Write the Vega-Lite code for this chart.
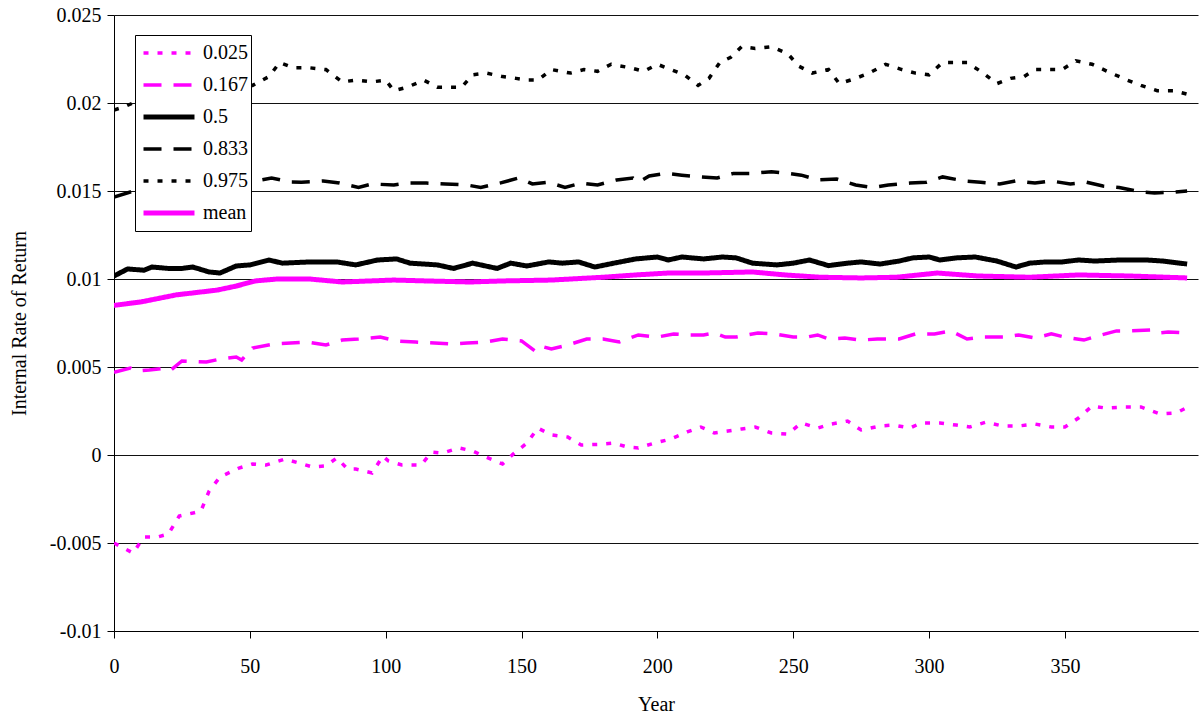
{
  "$schema": "https://vega.github.io/schema/vega-lite/v6.json",
  "width": 1084,
  "height": 616,
  "autosize": {"type": "none"},
  "padding": {"left": 114, "top": 15, "right": 2, "bottom": 84},
  "background": "white",
  "config": {
    "view": {"stroke": null},
    "font": "Liberation Serif",
    "axis": {
      "domainColor": "black", "tickColor": "black", "labelColor": "black", "titleColor": "black",
      "labelFont": "Liberation Serif", "titleFont": "Liberation Serif",
      "labelFontSize": 20, "titleFontSize": 20, "titleFontWeight": "normal",
      "tickSize": 7, "domainWidth": 1, "tickWidth": 1
    }
  },
  "data": {"values": [
    {"s":"0.975","x":0,"y":0.0196},{"s":"0.975","x":4,"y":0.0198},{"s":"0.975","x":10,"y":0.0202},{"s":"0.975","x":20,"y":0.0206},{"s":"0.975","x":30,"y":0.0209},{"s":"0.975","x":40,"y":0.0210},{"s":"0.975","x":51,"y":0.0210},{"s":"0.975","x":57,"y":0.0215},{"s":"0.975","x":61,"y":0.0223},{"s":"0.975","x":66,"y":0.0220},{"s":"0.975","x":72,"y":0.0220},{"s":"0.975","x":78,"y":0.0219},{"s":"0.975","x":84,"y":0.0212},{"s":"0.975","x":89,"y":0.0213},{"s":"0.975","x":95,"y":0.0212},{"s":"0.975","x":100,"y":0.0213},{"s":"0.975","x":103,"y":0.0207},{"s":"0.975","x":108,"y":0.0209},{"s":"0.975","x":114,"y":0.0213},{"s":"0.975","x":119,"y":0.0209},{"s":"0.975","x":124,"y":0.0209},{"s":"0.975","x":128,"y":0.0209},{"s":"0.975","x":132,"y":0.0216},{"s":"0.975","x":137,"y":0.0217},{"s":"0.975","x":143,"y":0.0215},{"s":"0.975","x":148,"y":0.0214},{"s":"0.975","x":152,"y":0.0213},{"s":"0.975","x":156,"y":0.0213},{"s":"0.975","x":161,"y":0.0219},{"s":"0.975","x":168,"y":0.0217},{"s":"0.975","x":173,"y":0.0219},{"s":"0.975","x":178,"y":0.0218},{"s":"0.975","x":183,"y":0.0222},{"s":"0.975","x":190,"y":0.0220},{"s":"0.975","x":195,"y":0.0218},{"s":"0.975","x":200,"y":0.0222},{"s":"0.975","x":205,"y":0.0219},{"s":"0.975","x":210,"y":0.0216},{"s":"0.975","x":215,"y":0.0210},{"s":"0.975","x":219,"y":0.0214},{"s":"0.975","x":223,"y":0.0223},{"s":"0.975","x":227,"y":0.0226},{"s":"0.975","x":231,"y":0.0232},{"s":"0.975","x":236,"y":0.0231},{"s":"0.975","x":242,"y":0.0232},{"s":"0.975","x":248,"y":0.0228},{"s":"0.975","x":252,"y":0.0221},{"s":"0.975","x":257,"y":0.0217},{"s":"0.975","x":263,"y":0.0219},{"s":"0.975","x":267,"y":0.0211},{"s":"0.975","x":273,"y":0.0214},{"s":"0.975","x":278,"y":0.0217},{"s":"0.975","x":284,"y":0.0222},{"s":"0.975","x":290,"y":0.0219},{"s":"0.975","x":295,"y":0.0217},{"s":"0.975","x":300,"y":0.0216},{"s":"0.975","x":305,"y":0.0223},{"s":"0.975","x":310,"y":0.0223},{"s":"0.975","x":314,"y":0.0223},{"s":"0.975","x":319,"y":0.0218},{"s":"0.975","x":325,"y":0.0211},{"s":"0.975","x":330,"y":0.0214},{"s":"0.975","x":335,"y":0.0215},{"s":"0.975","x":339,"y":0.0219},{"s":"0.975","x":343,"y":0.0219},{"s":"0.975","x":349,"y":0.0219},{"s":"0.975","x":354,"y":0.0224},{"s":"0.975","x":360,"y":0.0222},{"s":"0.975","x":367,"y":0.0217},{"s":"0.975","x":373,"y":0.0213},{"s":"0.975","x":378,"y":0.0210},{"s":"0.975","x":384,"y":0.0207},{"s":"0.975","x":390,"y":0.0207},{"s":"0.975","x":395,"y":0.0205},

    {"s":"0.833","x":0,"y":0.01466},{"s":"0.833","x":6,"y":0.01494},{"s":"0.833","x":15,"y":0.0152},{"s":"0.833","x":25,"y":0.0154},{"s":"0.833","x":35,"y":0.0155},{"s":"0.833","x":45,"y":0.0156},{"s":"0.833","x":52,"y":0.01557},{"s":"0.833","x":58,"y":0.01574},{"s":"0.833","x":65,"y":0.01551},{"s":"0.833","x":69,"y":0.0155},{"s":"0.833","x":77,"y":0.01557},{"s":"0.833","x":83,"y":0.01545},{"s":"0.833","x":90,"y":0.0152},{"s":"0.833","x":95,"y":0.0154},{"s":"0.833","x":103,"y":0.01534},{"s":"0.833","x":108,"y":0.01545},{"s":"0.833","x":115,"y":0.01545},{"s":"0.833","x":122,"y":0.0154},{"s":"0.833","x":130,"y":0.01534},{"s":"0.833","x":135,"y":0.0152},{"s":"0.833","x":142,"y":0.01545},{"s":"0.833","x":149,"y":0.01574},{"s":"0.833","x":154,"y":0.0154},{"s":"0.833","x":160,"y":0.0155},{"s":"0.833","x":166,"y":0.0152},{"s":"0.833","x":172,"y":0.01545},{"s":"0.833","x":178,"y":0.01534},{"s":"0.833","x":185,"y":0.01563},{"s":"0.833","x":191,"y":0.01574},{"s":"0.833","x":193,"y":0.0155},{"s":"0.833","x":197,"y":0.01585},{"s":"0.833","x":203,"y":0.0160},{"s":"0.833","x":209,"y":0.0159},{"s":"0.833","x":216,"y":0.0158},{"s":"0.833","x":222,"y":0.01574},{"s":"0.833","x":228,"y":0.0160},{"s":"0.833","x":235,"y":0.0160},{"s":"0.833","x":242,"y":0.0161},{"s":"0.833","x":248,"y":0.0160},{"s":"0.833","x":253,"y":0.0159},{"s":"0.833","x":259,"y":0.01563},{"s":"0.833","x":266,"y":0.01568},{"s":"0.833","x":273,"y":0.01534},{"s":"0.833","x":279,"y":0.0152},{"s":"0.833","x":285,"y":0.01534},{"s":"0.833","x":293,"y":0.01545},{"s":"0.833","x":299,"y":0.0155},{"s":"0.833","x":305,"y":0.0158},{"s":"0.833","x":313,"y":0.01557},{"s":"0.833","x":319,"y":0.0155},{"s":"0.833","x":326,"y":0.0154},{"s":"0.833","x":332,"y":0.01557},{"s":"0.833","x":339,"y":0.01545},{"s":"0.833","x":345,"y":0.01557},{"s":"0.833","x":352,"y":0.0154},{"s":"0.833","x":358,"y":0.0155},{"s":"0.833","x":364,"y":0.01528},{"s":"0.833","x":370,"y":0.0152},{"s":"0.833","x":378,"y":0.01494},{"s":"0.833","x":383,"y":0.01489},{"s":"0.833","x":390,"y":0.01494},{"s":"0.833","x":395,"y":0.0150},

    {"s":"0.5","x":0,"y":0.01017},{"s":"0.5","x":5,"y":0.01057},{"s":"0.5","x":11,"y":0.0105},{"s":"0.5","x":14,"y":0.01068},{"s":"0.5","x":20,"y":0.0106},{"s":"0.5","x":25,"y":0.0106},{"s":"0.5","x":29,"y":0.01068},{"s":"0.5","x":35,"y":0.0104},{"s":"0.5","x":39,"y":0.01034},{"s":"0.5","x":45,"y":0.01074},{"s":"0.5","x":50,"y":0.0108},{"s":"0.5","x":57,"y":0.01108},{"s":"0.5","x":62,"y":0.0109},{"s":"0.5","x":72,"y":0.01097},{"s":"0.5","x":82,"y":0.01097},{"s":"0.5","x":89,"y":0.0108},{"s":"0.5","x":97,"y":0.01108},{"s":"0.5","x":104,"y":0.01114},{"s":"0.5","x":109,"y":0.0109},{"s":"0.5","x":119,"y":0.0108},{"s":"0.5","x":125,"y":0.0106},{"s":"0.5","x":132,"y":0.0109},{"s":"0.5","x":141,"y":0.0106},{"s":"0.5","x":146,"y":0.0109},{"s":"0.5","x":152,"y":0.01074},{"s":"0.5","x":160,"y":0.01097},{"s":"0.5","x":165,"y":0.0109},{"s":"0.5","x":171,"y":0.01097},{"s":"0.5","x":177,"y":0.01068},{"s":"0.5","x":184,"y":0.0109},{"s":"0.5","x":192,"y":0.01114},{"s":"0.5","x":200,"y":0.01125},{"s":"0.5","x":204,"y":0.01108},{"s":"0.5","x":209,"y":0.01125},{"s":"0.5","x":217,"y":0.01114},{"s":"0.5","x":224,"y":0.01125},{"s":"0.5","x":229,"y":0.0112},{"s":"0.5","x":235,"y":0.0109},{"s":"0.5","x":244,"y":0.0108},{"s":"0.5","x":250,"y":0.0109},{"s":"0.5","x":256,"y":0.01108},{"s":"0.5","x":263,"y":0.01076},{"s":"0.5","x":270,"y":0.0109},{"s":"0.5","x":275,"y":0.01097},{"s":"0.5","x":282,"y":0.01085},{"s":"0.5","x":289,"y":0.01102},{"s":"0.5","x":294,"y":0.0112},{"s":"0.5","x":300,"y":0.01125},{"s":"0.5","x":304,"y":0.01108},{"s":"0.5","x":310,"y":0.0112},{"s":"0.5","x":317,"y":0.01125},{"s":"0.5","x":325,"y":0.01102},{"s":"0.5","x":332,"y":0.01068},{"s":"0.5","x":337,"y":0.0109},{"s":"0.5","x":343,"y":0.01097},{"s":"0.5","x":349,"y":0.01097},{"s":"0.5","x":355,"y":0.01108},{"s":"0.5","x":361,"y":0.01102},{"s":"0.5","x":370,"y":0.01108},{"s":"0.5","x":380,"y":0.01108},{"s":"0.5","x":386,"y":0.01102},{"s":"0.5","x":395,"y":0.01085},

    {"s":"mean","x":0,"y":0.0085},{"s":"mean","x":10,"y":0.0087},{"s":"mean","x":23,"y":0.0091},{"s":"mean","x":38,"y":0.00937},{"s":"mean","x":45,"y":0.0096},{"s":"mean","x":52,"y":0.00989},{"s":"mean","x":60,"y":0.0100},{"s":"mean","x":72,"y":0.0100},{"s":"mean","x":84,"y":0.00983},{"s":"mean","x":103,"y":0.00994},{"s":"mean","x":115,"y":0.00989},{"s":"mean","x":131,"y":0.00983},{"s":"mean","x":143,"y":0.00989},{"s":"mean","x":161,"y":0.00994},{"s":"mean","x":180,"y":0.0101},{"s":"mean","x":192,"y":0.01023},{"s":"mean","x":204,"y":0.01034},{"s":"mean","x":217,"y":0.01034},{"s":"mean","x":235,"y":0.0104},{"s":"mean","x":247,"y":0.01023},{"s":"mean","x":260,"y":0.0101},{"s":"mean","x":275,"y":0.01006},{"s":"mean","x":288,"y":0.0101},{"s":"mean","x":303,"y":0.01034},{"s":"mean","x":318,"y":0.01017},{"s":"mean","x":337,"y":0.0101},{"s":"mean","x":355,"y":0.01023},{"s":"mean","x":374,"y":0.01017},{"s":"mean","x":395,"y":0.01006},

    {"s":"0.167","x":0,"y":0.0047},{"s":"0.167","x":6,"y":0.00494},{"s":"0.167","x":8,"y":0.00477},{"s":"0.167","x":13,"y":0.00483},{"s":"0.167","x":20,"y":0.00494},{"s":"0.167","x":21,"y":0.00483},{"s":"0.167","x":25,"y":0.00534},{"s":"0.167","x":34,"y":0.00528},{"s":"0.167","x":39,"y":0.00545},{"s":"0.167","x":45,"y":0.00557},{"s":"0.167","x":47,"y":0.0054},{"s":"0.167","x":51,"y":0.00608},{"s":"0.167","x":59,"y":0.00631},{"s":"0.167","x":65,"y":0.00636},{"s":"0.167","x":71,"y":0.00642},{"s":"0.167","x":78,"y":0.00625},{"s":"0.167","x":84,"y":0.00653},{"s":"0.167","x":90,"y":0.00659},{"s":"0.167","x":98,"y":0.0067},{"s":"0.167","x":104,"y":0.00648},{"s":"0.167","x":111,"y":0.00642},{"s":"0.167","x":118,"y":0.00636},{"s":"0.167","x":124,"y":0.00631},{"s":"0.167","x":130,"y":0.00636},{"s":"0.167","x":137,"y":0.00642},{"s":"0.167","x":143,"y":0.00659},{"s":"0.167","x":150,"y":0.00648},{"s":"0.167","x":155,"y":0.00591},{"s":"0.167","x":157,"y":0.00619},{"s":"0.167","x":161,"y":0.00602},{"s":"0.167","x":167,"y":0.00625},{"s":"0.167","x":174,"y":0.00659},{"s":"0.167","x":180,"y":0.00659},{"s":"0.167","x":186,"y":0.00642},{"s":"0.167","x":193,"y":0.00682},{"s":"0.167","x":200,"y":0.0067},{"s":"0.167","x":206,"y":0.00688},{"s":"0.167","x":212,"y":0.00682},{"s":"0.167","x":217,"y":0.00682},{"s":"0.167","x":221,"y":0.00693},{"s":"0.167","x":225,"y":0.0067},{"s":"0.167","x":229,"y":0.0067},{"s":"0.167","x":237,"y":0.00693},{"s":"0.167","x":243,"y":0.00688},{"s":"0.167","x":250,"y":0.0067},{"s":"0.167","x":255,"y":0.0067},{"s":"0.167","x":259,"y":0.00682},{"s":"0.167","x":263,"y":0.00659},{"s":"0.167","x":269,"y":0.00665},{"s":"0.167","x":275,"y":0.00653},{"s":"0.167","x":281,"y":0.00659},{"s":"0.167","x":289,"y":0.00659},{"s":"0.167","x":295,"y":0.00688},{"s":"0.167","x":302,"y":0.00688},{"s":"0.167","x":308,"y":0.00705},{"s":"0.167","x":314,"y":0.00659},{"s":"0.167","x":320,"y":0.0067},{"s":"0.167","x":328,"y":0.0067},{"s":"0.167","x":333,"y":0.00682},{"s":"0.167","x":339,"y":0.00665},{"s":"0.167","x":345,"y":0.00688},{"s":"0.167","x":350,"y":0.0067},{"s":"0.167","x":357,"y":0.00653},{"s":"0.167","x":362,"y":0.00676},{"s":"0.167","x":369,"y":0.00705},{"s":"0.167","x":374,"y":0.00705},{"s":"0.167","x":382,"y":0.0071},{"s":"0.167","x":384,"y":0.00693},{"s":"0.167","x":388,"y":0.00699},{"s":"0.167","x":395,"y":0.00693},

    {"s":"0.025","x":0,"y":-0.0050},{"s":"0.025","x":7,"y":-0.00557},{"s":"0.025","x":11,"y":-0.00466},{"s":"0.025","x":16,"y":-0.00466},{"s":"0.025","x":20,"y":-0.00449},{"s":"0.025","x":24,"y":-0.00347},{"s":"0.025","x":29,"y":-0.0033},{"s":"0.025","x":32,"y":-0.00318},{"s":"0.025","x":35,"y":-0.00205},{"s":"0.025","x":39,"y":-0.00125},{"s":"0.025","x":46,"y":-0.00074},{"s":"0.025","x":51,"y":-0.00051},{"s":"0.025","x":56,"y":-0.00057},{"s":"0.025","x":63,"y":-0.00023},{"s":"0.025","x":68,"y":-0.00045},{"s":"0.025","x":73,"y":-0.00068},{"s":"0.025","x":78,"y":-0.00062},{"s":"0.025","x":82,"y":-0.00017},{"s":"0.025","x":86,"y":-0.0008},{"s":"0.025","x":89,"y":-0.0008},{"s":"0.025","x":95,"y":-0.00102},{"s":"0.025","x":99,"y":-0.00006},{"s":"0.025","x":101,"y":-0.00034},{"s":"0.025","x":106,"y":-0.00057},{"s":"0.025","x":113,"y":-0.00057},{"s":"0.025","x":117,"y":0.00017},{"s":"0.025","x":121,"y":0.00011},{"s":"0.025","x":127,"y":0.0004},{"s":"0.025","x":132,"y":0.00023},{"s":"0.025","x":136,"y":-0.00006},{"s":"0.025","x":143,"y":-0.00051},{"s":"0.025","x":147,"y":0.00006},{"s":"0.025","x":152,"y":0.00068},{"s":"0.025","x":156,"y":0.00153},{"s":"0.025","x":161,"y":0.00114},{"s":"0.025","x":167,"y":0.00102},{"s":"0.025","x":172,"y":0.00057},{"s":"0.025","x":178,"y":0.0006},{"s":"0.025","x":184,"y":0.00068},{"s":"0.025","x":189,"y":0.00045},{"s":"0.025","x":193,"y":0.0004},{"s":"0.025","x":199,"y":0.00068},{"s":"0.025","x":205,"y":0.00091},{"s":"0.025","x":211,"y":0.00131},{"s":"0.025","x":216,"y":0.00159},{"s":"0.025","x":221,"y":0.00125},{"s":"0.025","x":226,"y":0.00136},{"s":"0.025","x":231,"y":0.00148},{"s":"0.025","x":236,"y":0.00159},{"s":"0.025","x":242,"y":0.00125},{"s":"0.025","x":248,"y":0.00119},{"s":"0.025","x":253,"y":0.00182},{"s":"0.025","x":259,"y":0.00153},{"s":"0.025","x":264,"y":0.00176},{"s":"0.025","x":270,"y":0.00193},{"s":"0.025","x":275,"y":0.00142},{"s":"0.025","x":282,"y":0.00165},{"s":"0.025","x":287,"y":0.0017},{"s":"0.025","x":293,"y":0.00153},{"s":"0.025","x":297,"y":0.00182},{"s":"0.025","x":304,"y":0.00182},{"s":"0.025","x":310,"y":0.0017},{"s":"0.025","x":315,"y":0.00159},{"s":"0.025","x":321,"y":0.00187},{"s":"0.025","x":327,"y":0.00165},{"s":"0.025","x":333,"y":0.00165},{"s":"0.025","x":339,"y":0.00176},{"s":"0.025","x":345,"y":0.00159},{"s":"0.025","x":350,"y":0.00159},{"s":"0.025","x":355,"y":0.0021},{"s":"0.025","x":360,"y":0.00278},{"s":"0.025","x":365,"y":0.00267},{"s":"0.025","x":372,"y":0.00273},{"s":"0.025","x":378,"y":0.00273},{"s":"0.025","x":385,"y":0.00233},{"s":"0.025","x":391,"y":0.00239},{"s":"0.025","x":395,"y":0.0027}
  ]},
  "mark": {"type": "line", "clip": true},
  "encoding": {
    "x": {
      "field": "x", "type": "quantitative",
      "scale": {"domain": [0, 399], "nice": false, "zero": false},
      "axis": {"title": "Year", "values": [0, 50, 100, 150, 200, 250, 300, 350], "grid": false, "labelPadding": 18, "titlePadding": 18, "labelFlush": false}
    },
    "y": {
      "field": "y", "type": "quantitative",
      "scale": {"domain": [-0.01, 0.025], "nice": false, "zero": false},
      "axis": {
        "title": "Internal Rate of Return",
        "values": [-0.01, -0.005, 0, 0.005, 0.01, 0.015, 0.02, 0.025],
        "labelExpr": "'' + datum.value",
        "grid": true, "gridColor": "#111111", "gridWidth": 1, "gridOpacity": 1,
        "labelPadding": 6, "titlePadding": 20
      }
    },
    "color": {
      "field": "s", "type": "nominal",
      "scale": {"domain": ["0.025", "0.167", "0.5", "0.833", "0.975", "mean"], "range": ["#FF00FF", "#FF00FF", "#000000", "#000000", "#000000", "#FF00FF"]},
      "legend": {"title": null, "orient": "none", "legendX": 21, "legendY": 20, "symbolType": "stroke", "symbolSize": 2600, "clipHeight": 30, "rowPadding": 2, "padding": 3, "symbolOffset": 3, "labelOffset": 6, "labelFont": "Liberation Serif", "labelFontSize": 20, "labelColor": "black", "strokeColor": "black", "fillColor": "white"}
    },
    "strokeDash": {
      "field": "s", "type": "nominal",
      "scale": {"domain": ["0.025", "0.167", "0.5", "0.833", "0.975", "mean"], "range": [[5, 9], [18, 12], [1, 0], [18, 12], [5, 9], [1, 0]]},
      "legend": {"title": null, "orient": "none", "legendX": 21, "legendY": 20, "symbolType": "stroke", "symbolSize": 2600, "clipHeight": 30, "rowPadding": 2, "padding": 3, "symbolOffset": 3, "labelOffset": 6, "labelFont": "Liberation Serif", "labelFontSize": 20, "labelColor": "black", "strokeColor": "black", "fillColor": "white"}
    },
    "strokeWidth": {
      "field": "s", "type": "ordinal",
      "scale": {"type": "ordinal", "domain": ["0.025", "0.167", "0.5", "0.833", "0.975", "mean"], "range": [3.5, 3.5, 5, 3.5, 3.5, 5]},
      "legend": {"title": null, "orient": "none", "legendX": 21, "legendY": 20, "symbolType": "stroke", "symbolSize": 2600, "clipHeight": 30, "rowPadding": 2, "padding": 3, "symbolOffset": 3, "labelOffset": 6, "labelFont": "Liberation Serif", "labelFontSize": 20, "labelColor": "black", "strokeColor": "black", "fillColor": "white"}
    }
  }
}
